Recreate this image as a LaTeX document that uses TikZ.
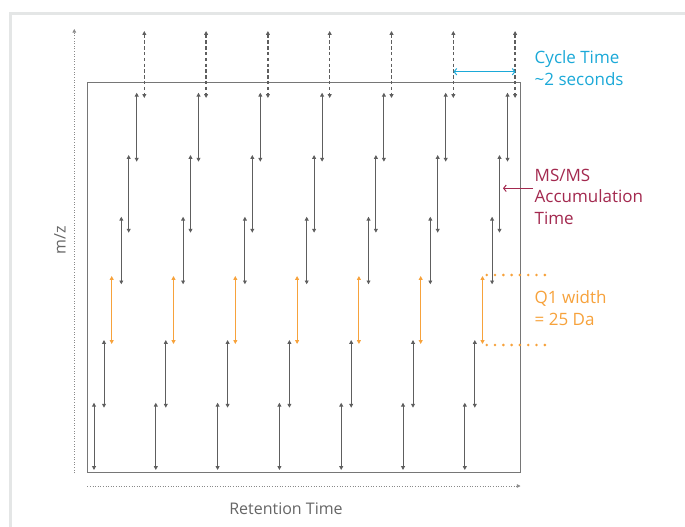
\documentclass[tikz,border=0pt]{standalone}
\usepackage{fontspec}
\setmainfont{Open Sans}
\usetikzlibrary{arrows.meta}
\definecolor{cyc}{HTML}{1BA9D8}
\definecolor{crim}{HTML}{A3294F}
\definecolor{org}{HTML}{F7A23B}
\definecolor{arr}{HTML}{5E5E5E}
\definecolor{panel}{HTML}{E4E6E6}
\definecolor{axis}{HTML}{8A8A8A}
\definecolor{lbl}{HTML}{666666}
\tikzset{
  tip/.tip={Triangle[length=3.8pt,width=3.8pt]},
  scanarrow/.style={draw=arr, line width=1pt, tip-tip},
  q1arrow/.style={draw=org, line width=1pt, tip-tip},
  toparrow/.style={draw=arr, line width=1.5pt, dash pattern=on 3.4pt off 2.4pt, tip-tip},
  axisline/.style={draw=axis, line width=0.8pt, dash pattern=on 0.8pt off 1.8pt, -{Triangle[length=3.6pt,width=3.6pt]}},
  frameline/.style={draw=arr!85, line width=1.2pt},
  q1dots/.style={draw=org, line width=2.9pt, line cap=round, dash pattern=on 0pt off 8.3pt},
  bigtext/.style={font=\fontsize{17}{21.6}\selectfont, align=left, inner sep=0pt, anchor=north west},
  axistext/.style={font=\fontsize{16}{19}\selectfont, text=lbl, inner sep=0pt},
  barb/.tip={Straight Barb[length=2.6pt,width=6.5pt]}
}
\begin{document}
\begin{tikzpicture}[x=1pt,y=-1pt]
\useasboundingbox (0,0) rectangle (685,527);
\fill[white] (0,0) rectangle (685,527);
% outer panel border
\draw[panel, line width=3pt] (10.5,527) -- (10.5,13.5) -- (685,13.5);
% main frame
\node[frameline, minimum width=433pt, minimum height=390.4pt, inner sep=0pt] (frame) at (303.8,277.5) {};
% axes
\coordinate (ya0) at (74.3,473);
\coordinate (ya1) at (74.3,29);
\draw[axisline] (ya0) -- (ya1);
\coordinate (xa0) at (87.3,486);
\coordinate (xa1) at (520.5,486);
\draw[axisline] (xa0) -- (xa1);
\node[axistext, rotate=90] (mz) at (60,240) {m/z};
\node[axistext, anchor=base] (rt) at (286,514) {Retention Time};
% staircase arrows
\foreach \c in {0,...,6}{
  \coordinate (t-\c-0) at ({144.3+61.8*\c},31);
  \coordinate (b-\c-0) at ({144.3+61.8*\c},98);
  \draw[toparrow] (t-\c-0) -- (b-\c-0);
  \foreach \l/\dx/\ya/\yb in {1/136.7/92.7/161.7, 2/128.7/155/232.7, 3/121.3/216.7/284.3, 5/104/340/407.7, 6/94/402.7/470}{
    \coordinate (t-\c-\l) at ({\dx+61.8*\c},\ya);
    \coordinate (b-\c-\l) at ({\dx+61.8*\c},\yb);
    \draw[scanarrow] (t-\c-\l) -- (b-\c-\l);
  }
  \coordinate (t-\c-4) at ({111.7+61.8*\c},276);
  \coordinate (b-\c-4) at ({111.7+61.8*\c},344);
  \draw[q1arrow] (t-\c-4) -- (b-\c-4);
}
% cycle time
\coordinate (cy0) at (453.5,71.7);
\coordinate (cy1) at (515.5,71.7);
\draw[draw=cyc, line width=1pt, barb-barb] (cy0) -- (cy1);
\node[bigtext, text=cyc] (cyclelbl) at (534.5,50.5) {Cycle Time\\\textasciitilde2 seconds};
% MS/MS accumulation
\coordinate (ms0) at (533,188.3);
\coordinate (ms1) at (503,188.3);
\draw[draw=crim, line width=1pt, -barb] (ms0) -- (ms1);
\node[bigtext, text=crim] (mslbl) at (534.5,168.5) {MS/MS\\Accumulation\\Time};
% Q1 width
\coordinate (qa0) at (486.7,275);
\coordinate (qa1) at (546,275);
\coordinate (qb0) at (486.7,345);
\coordinate (qb1) at (546,345);
\draw[q1dots] (qa0) -- (qa1);
\draw[q1dots] (qb0) -- (qb1);
\node[bigtext, text=org] (q1lbl) at (534.5,290.5) {Q1 width\\= 25 Da};
\end{tikzpicture}
\end{document}
